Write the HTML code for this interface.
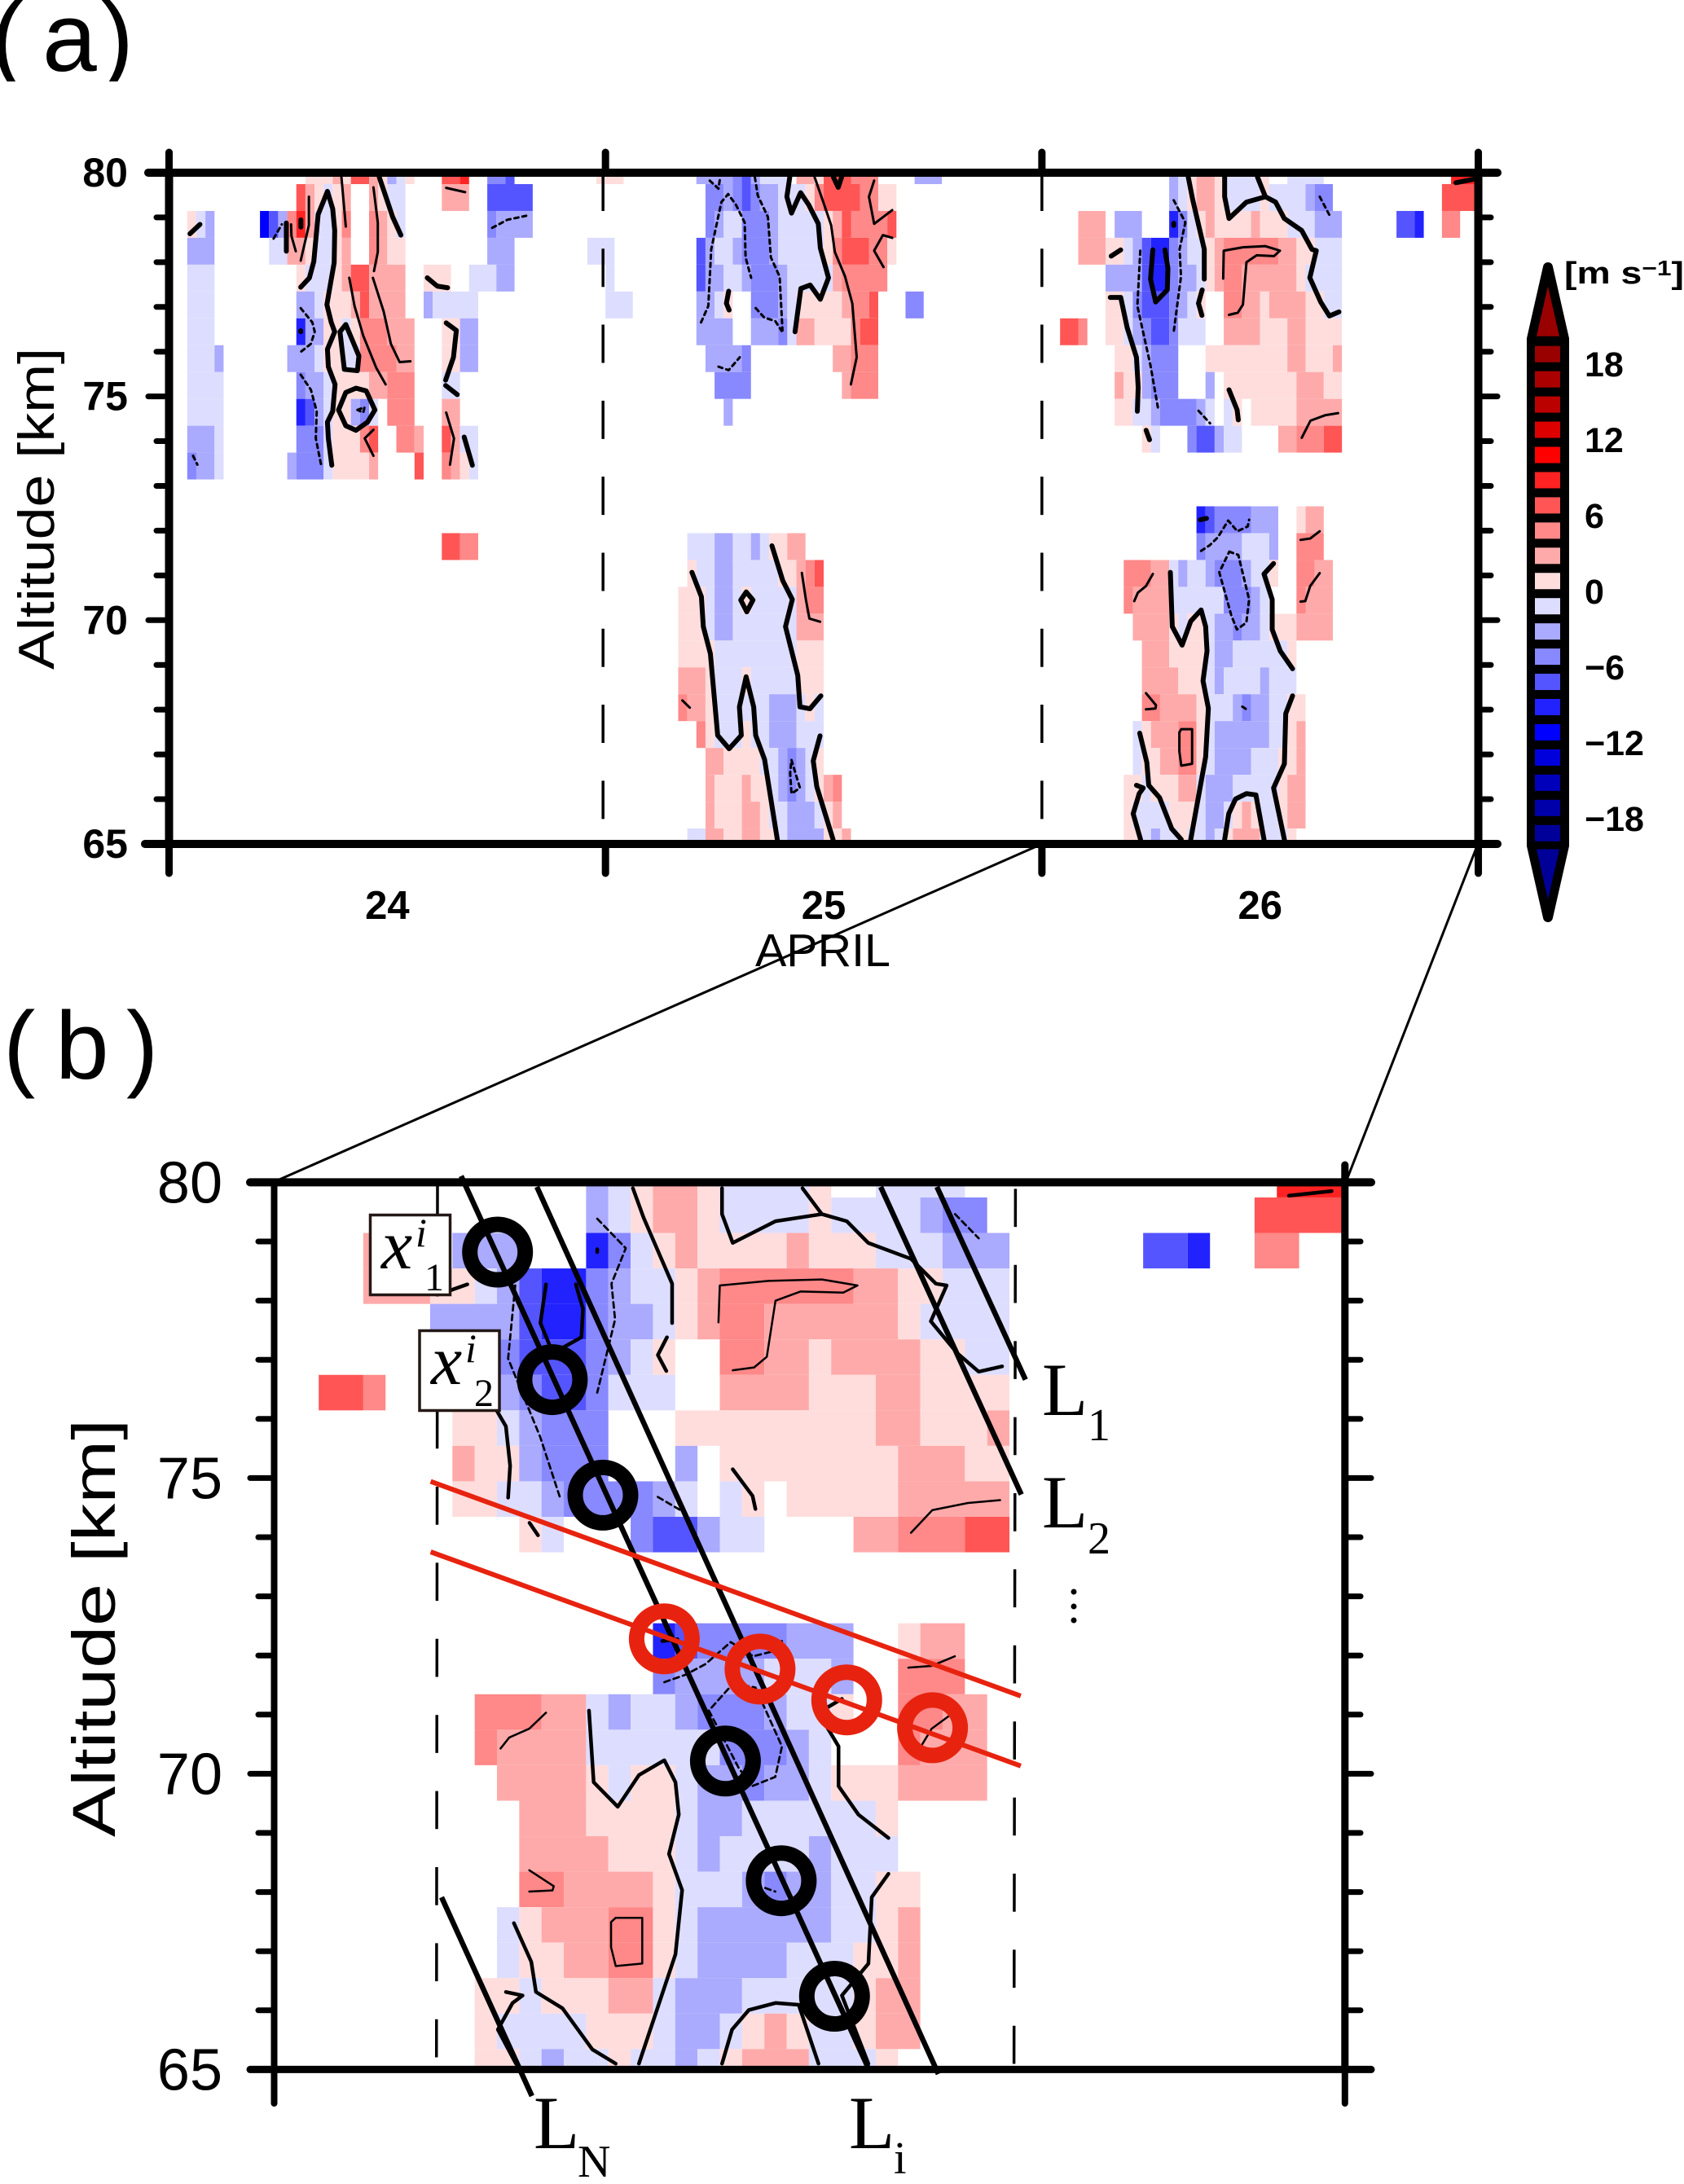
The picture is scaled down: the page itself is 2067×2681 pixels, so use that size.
<!DOCTYPE html>
<html lang="en">
<head>
<meta charset="utf-8">
<title>Altitude-time wind chart</title>
<style>
html,body{margin:0;padding:0;background:#fff;}
svg{display:block;}
text{font-family:"Liberation Sans",sans-serif;fill:#000;}
.serif{font-family:"Liberation Serif",serif;}
</style>
</head>
<body>
<svg id="figure" xmlns="http://www.w3.org/2000/svg" width="2067" height="2681" viewBox="0 0 2067 2681">
  <defs>
    <clipPath id="clip-a"><rect x="207" y="212" width="1607" height="824"/></clipPath>
    <clipPath id="clip-b"><rect x="336.5" y="1451" width="1314" height="1089"/></clipPath>
    <clipPath id="clip-label-a"><rect x="0" y="0" width="200" height="100"/></clipPath>
  </defs>
  <rect width="2067" height="2681" fill="#fff"/>
  <g clip-path="url(#clip-label-a)">
    <text x="-11" y="87" font-size="120">(</text>
    <text x="52" y="87" font-size="120">a</text>
    <text x="124" y="87" font-size="120">)</text>
  </g>
  <g>
    <text x="4" y="1324" font-size="118">(</text>
    <text x="68" y="1324" font-size="118">b</text>
    <text x="155" y="1324" font-size="118">)</text>
  </g>
  <g id="panel-a"></g>
  <g id="panel-b"></g>
  <text transform="translate(66,822) rotate(-90)" font-size="62" textLength="395" lengthAdjust="spacingAndGlyphs">Altitude [km]</text>
  <text transform="translate(141,2255) rotate(-90)" font-size="74" textLength="513" lengthAdjust="spacingAndGlyphs">Altitude [km]</text>
  <text x="927" y="1186" font-size="57" textLength="166" lengthAdjust="spacingAndGlyphs">APRIL</text>
  <line x1="1279" y1="1036" x2="336" y2="1451" stroke="#000" stroke-width="3"/>
  <line x1="1814" y1="1036" x2="1652" y2="1451" stroke="#000" stroke-width="3"/>
  <g id="overlay">
    <g stroke="#000" stroke-width="6.5" fill="none">
      <line x1="1150" y1="1457" x2="1258.7" y2="1693.6"/>
      <line x1="1081" y1="1457" x2="1253.6" y2="1834.6"/>
      <line x1="566" y1="1443.6" x2="1065" y2="2537"/>
      <line x1="659" y1="1457" x2="1151.8" y2="2546"/>
      <line x1="542" y1="2329" x2="652.9" y2="2573"/>
    </g>
    <g stroke="#e7230f" stroke-width="6" fill="none">
      <line x1="528.6" y1="1818.6" x2="1252.9" y2="2081.9"/>
      <line x1="528.6" y1="1905" x2="1252.9" y2="2167.8"/>
    </g>
    <g fill="none" stroke="#000" stroke-width="19">
      <circle cx="610.7" cy="1537" r="34"/>
      <circle cx="677.9" cy="1693.6" r="34"/>
      <circle cx="740" cy="1835.4" r="34"/>
      <circle cx="890.4" cy="2161.8" r="34"/>
      <circle cx="958.9" cy="2308.7" r="34"/>
      <circle cx="1024.3" cy="2450.5" r="34"/>
    </g>
    <g fill="none" stroke="#e7230f" stroke-width="19">
      <circle cx="815.4" cy="2011.8" r="34"/>
      <circle cx="932.9" cy="2048.9" r="34"/>
      <circle cx="1039.3" cy="2086.7" r="34"/>
      <circle cx="1144.6" cy="2120.9" r="34"/>
    </g>
    <g>
      <rect x="454.5" y="1491.5" width="98" height="98" fill="#fff" stroke="#231815" stroke-width="3.5"/>
      <text class="serif" x="468" y="1557" font-size="86" font-style="italic" fill="#231815">x</text>
      <text class="serif" x="510" y="1530" font-size="50" font-style="italic" fill="#231815">i</text>
      <text class="serif" x="521" y="1584" font-size="48" fill="#231815">1</text>
    </g>
    <g>
      <rect x="515" y="1633.5" width="98" height="98" fill="#fff" stroke="#231815" stroke-width="3.5"/>
      <text class="serif" x="529" y="1699" font-size="86" font-style="italic" fill="#231815">x</text>
      <text class="serif" x="571" y="1672" font-size="50" font-style="italic" fill="#231815">i</text>
      <text class="serif" x="582" y="1726" font-size="48" fill="#231815">2</text>
    </g>
    <g>
      <text class="serif" x="1279" y="1737" font-size="92">L</text>
      <text class="serif" x="1335" y="1768" font-size="56">1</text>
      <text class="serif" x="1279" y="1875" font-size="92">L</text>
      <text class="serif" x="1335" y="1907" font-size="56">2</text>
      <text class="serif" x="655" y="2637" font-size="92">L</text>
      <text class="serif" x="709" y="2672" font-size="56">N</text>
      <text class="serif" x="1042" y="2637" font-size="92">L</text>
      <text class="serif" x="1097" y="2668" font-size="56">i</text>
      <circle cx="1318" cy="1954" r="3.5" fill="#000"/>
      <circle cx="1318" cy="1972" r="3.5" fill="#000"/>
      <circle cx="1318" cy="1989" r="3.5" fill="#000"/>
    </g>
  </g>
  <g id="colorbar">
    <path d="M1880 416 L1900 328 L1920 416 L1920 1038 L1900 1126 L1880 1038 Z" fill="#000" stroke="#000" stroke-width="12" stroke-linejoin="round"/>
    <polygon points="1900,351.5 1914,412.7 1886,412.7" fill="#990000"/>
    <polygon points="1886,1042.5 1914,1042.5 1900,1104" fill="#000099"/>
    <text x="1920" y="348" font-size="38" font-weight="bold" textLength="147" lengthAdjust="spacingAndGlyphs">[m s<tspan dy="-10" font-size="26">−1</tspan><tspan dy="10">]</tspan></text>
  </g>
</svg>
<script>
// Grid units: col = half-hour index from start of 24 April, row = 0.6 km altitude bin counted from the top.
// Each row holds flat triples: first col, last col, velocity in m/s.
const velocityRows = [
/*0*/[15,17,1,18,18,3,19,19,1,20,21,7,22,22,3,23,23,1,24,24,-3,25,25,-1,26,26,1,30,31,7,32,32,9,35,36,-5,37,37,-7,47,49,1,58,61,-3,62,62,-5,63,63,-7,64,64,-3,65,67,-1,69,70,3,71,71,1,72,74,7,75,77,5,82,84,-3,110,110,-3,111,111,-1,112,112,1,113,114,3,115,115,1,116,119,-1,120,120,1,123,126,-1,141,143,9],
/*1*/[14,14,7,15,15,3,16,16,1,17,17,-1,18,18,1,19,19,3,22,22,3,23,23,1,24,25,-1,30,32,3,35,39,-7,59,60,-5,61,61,-3,62,62,-5,63,63,-7,64,64,-5,65,66,-3,67,69,-1,70,70,1,71,71,5,72,75,7,76,77,5,78,79,1,110,110,-3,111,111,-1,112,112,1,113,114,3,115,115,1,116,119,-1,120,120,1,121,124,-1,125,125,-3,126,127,-5,140,143,7],
/*2*/[2,2,1,3,3,-1,4,4,-3,10,10,-11,11,11,-7,12,12,-3,13,13,5,14,14,9,15,15,3,16,17,-1,18,18,1,19,19,5,22,22,5,23,23,3,24,24,1,25,25,-1,35,35,-5,36,39,-3,59,59,-5,60,60,-3,61,62,-1,63,65,-5,66,66,-3,67,71,-1,72,72,1,73,73,3,74,74,7,75,78,5,79,79,7,100,102,3,104,106,-3,110,110,-9,111,111,-5,112,112,-1,113,113,1,114,114,3,115,118,1,119,119,3,120,122,1,123,125,-1,126,128,-3,135,136,-7,137,137,-9,140,141,5],
/*3*/[2,4,-3,11,12,-1,13,14,3,15,15,1,16,17,-1,18,18,1,19,19,3,22,22,5,23,23,3,24,25,1,35,37,-3,46,48,-1,58,58,-7,59,59,-3,60,61,-1,62,62,-3,63,65,-5,66,66,-3,67,71,-1,72,72,1,73,73,5,74,76,7,77,78,5,79,79,1,100,102,3,103,104,1,105,105,-1,106,106,-3,107,107,-7,108,109,-9,110,110,-5,111,111,-3,112,113,-1,114,114,1,115,115,3,116,121,5,122,123,3,124,125,1,126,128,-1],
/*4*/[2,4,-1,14,14,1,15,17,-1,18,18,1,19,19,3,20,21,7,22,25,3,28,30,1,33,35,-1,36,37,-3,48,48,-1,58,58,-7,59,60,-3,61,62,-1,63,63,-3,64,66,-5,67,67,-3,68,72,-1,73,73,3,74,78,5,103,106,-3,107,107,-7,108,109,-9,110,110,-5,111,112,-3,113,113,-1,114,114,1,115,115,3,116,117,5,118,123,3,124,124,1,125,128,-1],
/*5*/[2,4,-1,14,15,-3,16,16,-1,17,19,1,20,20,3,21,21,7,22,25,3,28,28,-3,29,33,-1,48,50,-1,58,59,-3,60,60,-1,61,61,1,64,66,-5,67,67,-3,68,68,-1,69,73,1,74,74,3,75,76,5,77,77,7,81,82,-5,103,104,1,105,105,-1,106,106,-5,107,109,-7,110,110,-5,111,111,-3,112,112,-1,113,113,1,116,117,5,118,119,3,120,120,1,121,124,3,125,126,1,127,128,-1],
/*6*/[2,4,-1,14,14,-9,15,16,-3,17,18,1,19,19,-1,20,20,1,21,23,5,24,26,3,30,31,1,32,33,-3,58,61,-3,64,66,-3,67,67,-5,68,68,-1,69,70,3,71,74,1,75,75,5,76,77,7,98,99,7,100,100,5,103,104,1,105,105,-1,106,106,-3,107,107,-5,108,109,-7,110,110,-5,111,113,-1,116,119,3,120,122,1,123,124,3,125,128,1],
/*7*/[2,4,-1,5,5,-3,13,15,-3,16,16,-1,17,18,1,19,20,-1,21,24,5,25,26,3,30,31,1,32,33,-3,59,62,-3,63,63,-5,73,74,3,75,77,5,104,105,1,106,106,-1,107,107,-3,108,110,-5,114,122,1,123,124,3,125,127,1,128,128,3],
/*8*/[2,5,-1,14,14,-5,15,16,-3,17,17,-1,18,21,1,22,23,3,24,26,5,30,31,-1,60,63,-5,74,74,3,75,77,5,104,104,3,105,106,1,107,107,-3,108,110,-5,114,114,-3,116,123,1,124,126,3,127,128,1],
/*9*/[2,5,-1,14,14,-9,15,15,-7,16,16,-3,17,17,-1,18,19,1,20,20,-3,21,21,-5,22,22,-1,24,26,5,30,31,3,61,61,-3,104,105,1,106,107,-1,108,108,-3,109,112,-5,113,113,-3,114,114,-1,116,116,-1,117,117,1,119,123,1,124,128,3],
/*10*/[2,4,-3,5,5,-1,14,16,-5,17,17,-1,18,20,1,21,21,5,22,22,7,25,26,5,27,27,3,30,30,7,31,31,3,32,33,-1,107,107,1,108,108,-1,112,112,-5,113,114,-7,115,115,-3,116,117,-1,122,123,3,124,126,5,127,128,7],
/*11*/[2,2,-5,3,4,-3,5,5,-1,13,13,-3,14,16,-5,17,17,-1,18,21,1,22,22,3,27,27,7,30,30,5,31,31,3,32,32,1,33,33,-1],
/*12*/[],
/*13*/[113,113,-9,114,114,-7,115,118,-5,119,121,-3,124,124,1,125,126,3],
/*14*/[30,31,7,32,33,5,57,59,-1,60,61,-3,62,63,-1,64,64,-3,65,65,-1,66,67,1,68,69,3,113,113,-5,114,117,-3,118,120,-1,121,121,-3,124,126,5],
/*15*/[57,57,1,58,59,-1,60,61,-3,62,66,-1,67,68,1,69,69,3,70,70,5,71,71,7,105,107,5,108,109,3,110,110,-1,111,111,-3,112,113,-1,114,114,-3,115,117,-5,118,118,-3,119,120,-1,121,121,1,124,125,5,126,127,3],
/*16*/[56,58,1,59,59,-1,60,61,-3,62,62,-1,63,63,1,64,68,-1,69,69,3,70,71,5,105,105,5,106,109,3,110,115,-1,116,118,-5,119,119,-3,120,120,-1,124,124,5,125,127,3],
/*17*/[56,58,1,59,59,-1,60,61,-3,62,68,-1,69,71,3,106,109,3,110,110,1,111,111,-1,112,113,1,114,114,-1,115,116,-3,117,117,-5,118,119,-3,120,120,-1,121,123,1,124,127,3],
/*18*/[56,59,1,60,68,-1,69,71,1,107,109,3,110,113,1,114,114,-1,115,116,-3,117,122,-1,123,123,1],
/*19*/[56,58,3,59,59,1,60,62,-1,63,63,1,64,68,-1,69,71,1,107,110,3,111,113,1,114,114,-1,115,115,-3,116,119,-1,120,120,-3,121,123,-1],
/*20*/[56,56,5,57,58,3,59,59,1,60,65,-1,66,68,-3,69,69,-1,70,70,1,71,71,-1,107,108,5,109,112,3,113,113,1,114,116,-1,117,117,-3,118,118,-5,119,120,-3,121,122,-1,123,124,1],
/*21*/[58,58,5,59,59,1,60,62,-1,63,63,1,64,65,-1,66,68,-3,69,71,-1,106,106,-1,107,107,1,108,110,3,111,112,5,113,113,1,114,114,-1,115,120,-3,121,122,-1,123,123,1,124,124,3],
/*22*/[59,60,3,61,64,1,65,66,-1,67,67,-3,68,68,-5,69,69,-3,70,70,-1,71,71,1,106,106,-1,107,108,1,109,110,3,111,112,5,113,113,1,114,114,-1,115,118,-3,119,121,-1,122,123,1,124,124,3],
/*23*/[59,59,3,60,62,1,63,63,3,64,65,1,66,66,-1,67,67,-3,68,68,-5,69,69,-3,70,70,-1,71,71,1,72,72,3,73,73,5,105,106,1,107,107,-1,108,110,1,111,112,3,113,113,-1,114,116,-3,117,121,-1,122,122,1,123,124,3],
/*24*/[59,59,3,60,62,1,63,64,3,65,65,1,66,67,-1,68,70,-3,71,71,-1,72,72,1,73,73,3,105,105,1,106,109,-1,110,112,1,113,113,-1,114,115,-3,116,116,-1,117,117,1,118,118,3,119,119,1,120,121,-1,122,122,1,123,124,3],
/*25*/[57,58,-1,59,60,3,61,62,1,63,64,3,65,66,1,67,67,-1,68,71,-3,72,73,1,74,74,3,105,106,1,107,107,-1,108,108,-3,109,110,-1,111,111,1,112,113,-1,114,114,-3,115,115,-1,116,116,1,117,119,3,120,122,-1,123,123,1]
];
// Contours: flat col,row pairs in grid units.
const zeroContours = [
[2.3,2.85,3.4,2.5],[12.9,2.45,12.9,3.5],[14.5,2.33,14.5,2.6],
[14.48,4.84,15.44,4.49,15.92,3.88,16.4,2.13,17.42,1.27,18,1.92,18.22,2.73,18.16,3.93,17.74,4.74,17.36,5.49,17.84,6.15,18.22,6.5,17.42,7.15,17.52,7.8,18.26,8.46,18,9.46,17.42,9.86,17.52,10.47,17.9,11.47],
[23.12,0.74,23.6,1.22,24.6,2.23,25.5,2.9],
[19.44,6.23,18.8,6.5,19.28,7.9,20.72,7.95,20.88,7.4,19.44,6.23],
[19.44,8.76,20.56,8.6,21.68,8.7,22.64,9.41,21.84,9.86,20.56,10.17,19.44,10,18.64,9.41,19.44,8.76],
[30.48,6.17,31.6,6.45,31.28,7.45,30.42,8.3],[30.42,8.5,31.7,8.84],[28.4,4.49,29.5,4.8,30.64,4.86],[32.46,10.42,33.36,11.47],[14.48,6.46,14.48,6.5],
[68.27,0.74,67.95,1.47,68.46,2.08,69.46,1.32,70.35,1.77,71.41,2.48,71.63,3.38,72.53,4.49,71.63,5.29,70.51,4.76,69.49,4.89,68.85,6.5],
[61.55,4.99,61.3,5.44,61.6,5.69],[73.07,0.74,73.6,1.12,73.97,0.74],
[112.1,0.74,112.58,1.57,113.86,3.43,113.86,4.54],[113.63,4.94,113.22,5.44,113.6,5.89],
[116.1,0.74,116.1,1.47,116.58,2.28,118.5,1.67,120.58,1.47,121.7,1.67,122.66,2.28,124.58,2.73,125.7,3.43,126.18,3.48,125.47,4.49,126.66,5.39,127.62,5.91,128.67,5.76],
[119.71,0.74,120.58,1.47],[103.62,3.68,104.67,3.45],
[103.52,5.22,104.67,5.22,105.38,6.35,106.4,7.45,106.59,8.56,106.5,9.46],
[107.46,10.17,107.84,10.52],[116.58,8.66,117.47,9.41,117.6,9.78],
[108.2,3.45,107.95,4.54,108.51,5.39,109.79,4.94,109.86,4.14,109.54,3.45],
[110.5,2.46,110.5,2.54],[141.54,0.95,143.46,0.82],
[57.51,15.46,58.55,16.37,58.76,17.48,59.54,18.49,60.34,21.53,61.6,22.03,62.94,21.53,62.73,20.47,63.47,19.35,64.3,20.47,64.52,21.53,65.5,22.43,66.9,25.41],
[66.31,14.47,67.5,15.77,68.55,16.47,67.8,17.48,69.15,19.3,69.39,20.47,70.49,20.54,71.69,20.06],
[71.6,21.55,70.85,22.48,71.24,23.44,73.03,25.41],
[63.48,16.19,64.22,16.49,63.54,16.93,62.88,16.49,63.48,16.19],
[110.13,15.46,110.34,17.48,111.42,18.17,112.37,17.28,113.51,16.86,114.01,17.48,114.16,18.39,113.72,19.5,114.31,20.52,114.01,22.33,112.37,25.41],
[106.76,21.45,107.54,22.54,107.75,23.39,108.94,23.85,110.28,25.01,111.33,25.41],
[106.4,23.39,107.15,23.49,106.7,23.7,106.04,24.45,106.85,25.41],
[116.1,25.41,116.55,24.45,117.3,23.9,118.5,23.7,119.54,23.75,120.43,25.41],
[122.67,25.41,121.48,23.49,122.67,22.59,122.82,20.72,123.57,20.06],
[121.48,15.13,120.43,15.52,121.33,16.47,121.33,17.59,122.22,18.39,123.57,19.05],
[113.42,13.5,114.1,13.45]
];
const positiveContours = [
[18.96,0.74,19.44,2.58],[15.38,1.47,15.38,2.53,14.48,3.85],[13.42,2.5,13.46,2.93,13.94,3.5],
[22.48,1.12,22.96,2.43,22.96,3.53,22.54,4.24],
[19.82,4.49,20.4,5.54,21.36,6.65,22.8,7.85,23.82,8.46],
[22.42,4.49,23.6,5.74,24.4,6.95,25.36,7.63,26.54,7.6],
[30.48,1.14,32.56,1.3],[30.48,9.51,31.34,10.47,30.9,11.45],[22.48,10.15,21.52,10.47,22.48,11.12],
[71,0.74,72.11,1.82,72.82,2.53,73.23,3.53,74.35,4.44,75.15,5.45,75.63,7.45,74.99,8.46],
[77.55,0.87,76.98,1.47,77.55,2.48,79.54,1.97],[79.54,3,78.51,2.9,77.55,3.48,78.58,4.09],
[115.94,4.52,116,3.48,118.18,3.35,120.58,3.31,122.18,3.48,121.54,3.68,119.62,3.65,118.5,3.91,118.11,5.49,117.54,5.79,116.58,5.87],
[124.58,10.45,125.54,9.81,127.14,9.61,128.58,9.53],
[69.6,15.48,70.04,16.47,70.43,17.18,71.6,17.3],[56.46,20.23,57.27,20.5],
[108.2,15.52,107.45,15.97,106.55,16.22,106.16,16.53],[124.46,14.25,125.51,14.2,126.55,13.93],
[126.55,15.49,125.51,15.97,124.97,16.53,124.46,16.55],
[107.45,19.96,108.55,20.41,108.49,20.53,107.45,20.56],
[111.33,21.3,112.52,21.3,112.52,22.59,111.33,22.66,111.12,22.13,111.12,21.42,111.33,21.3]
];
const negativeContours = [
[2.64,11.12,3.12,11.45],[11.5,3.03,12.4,2.5],[35.54,2.63,37.2,2.33,39.28,2.18],
[14.48,5.62,15.76,6.15,16.02,6.5,15.6,6.95,14.48,7.25],
[14.48,8.1,15.6,8.66,16.24,9.46,16.14,10.47,16.72,11.45],
[20.72,9.41,21.5,9.31,21.36,9.51,20.72,9.41],
[59.47,0.87,60.43,1.17,60.6,0.77],
[58.51,6.15,59.31,5.54,59.63,3.43,60.75,1.67,61.49,1.37,62.35,1.77,63.31,2.43,63.41,3.73,64.02,4.49],
[64.43,0.74,64.75,1.42,65.87,2.23,66.19,3.73,67.15,4.44,67.47,6.45],
[64.53,5.62,65.46,5.97,66.67,6.1,67.38,6.47],[60.43,7.8,61.55,7.93,62.77,7.45],
[110.5,1.6,111.78,2.43,111.14,3.43,111.3,4.44,110.5,6.5],
[106.82,3.48,106.5,5.54,107.94,7.75,108.83,9.46],[113.22,9.44,114.5,9.91],[126.56,1.47,127.62,2.15],
[68.46,22.45,69.39,23.49,68.46,23.7,68.31,22.94,68.46,22.45],
[113.51,14.66,114.46,14.45,115.36,14.15,116.49,13.53,117.5,13.93,118.64,13.75,118.79,13.5],
[116.61,14.69,117.6,14.81,118.79,16.47,118.49,17.33,117.45,17.59,116.85,17.08,115.51,15.46,116.61,14.69],
[118.04,20.46,118.49,20.56]
];
const colorbarColors = ["#000099","#0000aa","#0000bb","#0000dd","#0000ff","#2222ff","#5555ff","#8888ff","#aaaaff","#ddddff","#ffdddd","#ffaaaa","#ff8888","#ff5555","#ff2222","#ff0000","#dd0000","#bb0000","#aa0000","#990000"];
const colorbarMin = -20;
const colorbarStep = 2;
const colorbarLabels = [18,12,6,0,-6,-12,-18];
const altitudeTicks = [65,66,67,68,69,70,71,72,73,74,75,76,77,78,79,80];
const altitudeLabels = [65,70,75,80];
const dayBoundaryCols = [0,48,96,144];
const dashedBoundaryCols = [48,96];
const dayLabels = ["24","25","26"];
const dayLabelCols = [24,72,120];

const NS = "http://www.w3.org/2000/svg";
function make(parent, tag, attrs) {
  const el = document.createElementNS(NS, tag);
  for (const key in attrs) el.setAttribute(key, attrs[key]);
  parent.appendChild(el);
  return el;
}
function rowFromKm(km) { return 0.574 + (80 - km) / 0.6; }
function colorFor(v) {
  const i = Math.floor((v - colorbarMin) / colorbarStep);
  return colorbarColors[Math.max(0, Math.min(colorbarColors.length - 1, i))];
}
const panels = {
  a: {
    x: c => 207.5 + 11.16 * c,
    y: r => 226 + 32.96 * (r - 1),
    minCol: 0, clip: "clip-a", zeroW: 6, posW: 3, negW: 3, dash: "5 5",
    group: document.getElementById("panel-a")
  },
  b: {
    x: c => 336.5 + (c - 96) * 27.35,
    y: r => 1451.4 + (r - 0.574) * 43.56,
    minCol: 96, clip: "clip-b", zeroW: 4.5, posW: 2.5, negW: 2.7, dash: "7 5",
    group: document.getElementById("panel-b")
  }
};
function drawData(p) {
  const g = make(p.group, "g", {"clip-path": "url(#" + p.clip + ")"});
  
  
  velocityRows.forEach((row, r) => {
    for (let i = 0; i < row.length; i += 3) {
      const first = row[i], last = row[i + 1], value = row[i + 2];
      if (last < p.minCol) continue;
      const x0 = p.x(first), x1 = p.x(last + 1), y0 = p.y(r), y1 = p.y(r + 1);
      const cell = make(g, "rect", {x: x0, y: y0, width: x1 - x0, height: y1 - y0, fill: colorFor(value)});
      
      
    }
  });
  function contour(list, width, dash, name) {
    list.forEach(line => {
      let pts = "";
      let maxCol = -1;
      for (let i = 0; i < line.length; i += 2) {
        pts += p.x(line[i]) + "," + p.y(line[i + 1]) + " ";
        maxCol = Math.max(maxCol, line[i]);
      }
      if (maxCol < p.minCol) return;
      const attrs = {points: pts, fill: "none", stroke: "#000", "stroke-width": width, "stroke-linecap": "round", "stroke-linejoin": "round"};
      if (dash) attrs["stroke-dasharray"] = dash;
      const el = make(g, "polyline", attrs);
      
      
    });
  }
  contour(positiveContours, p.posW, null, 'contour-positive');
  contour(negativeContours, p.negW, p.dash, 'contour-negative');
  contour(zeroContours, p.zeroW, null, 'contour-zero');
}
function axisLine(parent, x1, y1, x2, y2, w, name, cap) {
  const el = make(parent, "line", {x1: x1, y1: y1, x2: x2, y2: y2, stroke: "#000", "stroke-width": w, "stroke-linecap": cap || "round"});
  
  
  return el;
}
function axisLabel(parent, x, y, str, size, weight, anchor, name) {
  const el = make(parent, "text", {x: x, y: y, "font-size": size, "font-weight": weight, "text-anchor": anchor});
  el.textContent = str;
  
  
  return el;
}
function drawAxesA() {
  const p = panels.a, g = p.group;
  const left = p.x(0), right = p.x(144);
  const top = p.y(rowFromKm(80)), bottom = p.y(rowFromKm(65));
  dashedBoundaryCols.forEach(c => {
    const dx = c === 48 ? -3 : 0;
    const dash = axisLine(g, p.x(c) + dx, top, p.x(c) + dx, bottom, 3.5, 'day-boundary-dashed', 'butt');
    dash.setAttribute("stroke-dasharray", "47 46.3");
  });
  altitudeTicks.forEach(km => {
    const y = p.y(rowFromKm(km));
    const major = km % 5 === 0;
    axisLine(g, left, y, major ? 182 : 192, y, 7, 'y-tick-left');
    axisLine(g, right, y, major ? 1838 : 1830, y, 7, 'y-tick-right');
  });
  dayBoundaryCols.forEach(c => {
    axisLine(g, p.x(c), top, p.x(c), 187, 9, 'x-tick-top');
    axisLine(g, p.x(c), bottom, p.x(c), 1072, 9, 'x-tick-bottom');
  });
  axisLine(g, 182, top, 1838, top, 10, 'top-axis');
  axisLine(g, 178, bottom, 1838, bottom, 10, 'bottom-axis');
  axisLine(g, left, top, left, bottom, 10, 'left-axis');
  axisLine(g, right, top, right, bottom, 10, 'right-axis');
  altitudeLabels.forEach(km => {
    axisLabel(g, 157, p.y(rowFromKm(km)) + 17, String(km), 50, "bold", "end", 'y-tick-label');
  });
  dayLabels.forEach((d, i) => {
    axisLabel(g, p.x(dayLabelCols[i]), 1128, d, 49, "bold", "middle", 'x-tick-label');
  });
}
function drawAxesB() {
  const p = panels.b, g = p.group;
  const left = p.x(96), right = p.x(144) + 1.5;
  const top = p.y(rowFromKm(80)), bottom = p.y(rowFromKm(65));
  const d1 = axisLine(g, 537, top, 535.7, bottom, 3.5, 'sector-bound-left', 'butt');
  d1.setAttribute("stroke-dasharray", "46.7 46.7");
  const d2 = axisLine(g, 1246.4, top + 8, 1244.6, bottom, 3.5, 'sector-bound-right', 'butt');
  d2.setAttribute("stroke-dasharray", "46.7 46.7");
  altitudeTicks.forEach(km => {
    const y = p.y(rowFromKm(km));
    const major = km % 5 === 0;
    axisLine(g, left, y, major ? 307 : 317, y, 7, 'y-tick-left');
    axisLine(g, right, y, major ? 1683 : 1670, y, 7, 'y-tick-right');
  });
  [left, right].forEach(x => axisLine(g, x, bottom, x, 2582, 8, 'x-tick-bottom'));
  axisLine(g, 307, top, 1683, top, 10, 'top-axis');
  axisLine(g, 307, bottom, 1683, bottom, 9, 'bottom-axis');
  axisLine(g, left, top, left, bottom, 8, 'left-axis');
  axisLine(g, right, 1430, right, bottom, 9, 'right-axis');
  altitudeLabels.forEach(km => {
    axisLabel(g, 273, p.y(rowFromKm(km)) + 25, String(km), 72, "normal", "end", 'y-tick-label');
  });
}
function drawColorbar() {
  const g = document.getElementById("colorbar");
  const boxTop = 424.7, boxStep = 30.95;
  colorbarColors.forEach((color, i) => {
    const y = boxTop + boxStep * (colorbarColors.length - 1 - i);
    const box = make(g, "rect", {x: 1884, y: y, width: 31, height: 20, fill: color});
    
    
  });
  colorbarLabels.forEach(v => {
    const y = 729 - 15.5 * v + 12;
    const str = v < 0 ? "\u2212" + Math.abs(v) : String(v);
    axisLabel(g, 1945, y, str, 43, "bold", "start", 'colorbar-label');
  });
}
drawData(panels.a);
drawAxesA();
drawData(panels.b);
drawAxesB();
drawColorbar();
</script>
</body>
</html>
